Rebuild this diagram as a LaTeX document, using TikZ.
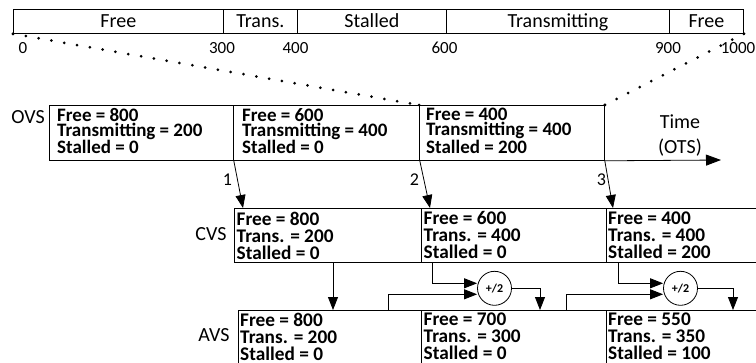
\documentclass[tikz,border=0pt]{standalone}
\usepackage{fontspec}
\setmainfont{Carlito}
\usetikzlibrary{arrows.meta,calc}
\begin{document}
\begin{tikzpicture}[x=1pt,y=-1pt,
  seg/.style={draw, line width=0.8pt, inner sep=0pt, minimum height=24pt, text height=13pt, text depth=0pt, font=\fontsize{20}{20}\selectfont},
  box/.style={draw, line width=0.8pt, inner sep=0pt, anchor=north west},
  otxt/.style={anchor=north west, inner sep=0pt, align=left, font=\bfseries\fontsize{19}{15}\selectfont},
  ctxt/.style={anchor=north west, inner sep=0pt, align=left, font=\bfseries\fontsize{19.3}{17}\selectfont},
  lab/.style={anchor=base, inner sep=0pt, font=\fontsize{20}{20}\selectfont},
  tick/.style={anchor=base, inner sep=0pt, font=\fontsize{17}{17}\selectfont},
  num/.style={anchor=base, inner sep=0pt, font=\fontsize{18}{18}\selectfont},
  pcirc/.style={draw, circle, line width=0.8pt, minimum size=34pt, inner sep=0pt, font=\bfseries\fontsize{12}{12}\selectfont},
  arr/.style={line width=0.8pt, -{Triangle[length=13pt,width=10pt]}},
  axarr/.style={line width=0.8pt, -{Triangle[length=15pt,width=11pt]}},
  dotline/.style={line width=3pt, line cap=round, dash pattern=on 0pt off 13pt}
]
\useasboundingbox (0,0) rectangle (756,362);
\clip (0,0) rectangle (756,362);

% top bar
\node[seg, minimum width=210pt, anchor=north west] (s1) at (13,9) {Free};
\node[seg, minimum width=74pt, anchor=north west] (s2) at (223,9) {Trans.};
\node[seg, minimum width=149pt, anchor=north west] (s3) at (297,9) {Stalled};
\node[seg, minimum width=223pt, anchor=north west] (s4) at (446,9) {Transmitting};
\node[seg, minimum width=74pt, anchor=north west] (s5) at (669,9) {Free};

\node[tick] (t0) at (23,53) {0};
\node[tick] (t300) at (222,53) {300};
\node[tick] (t400) at (295.5,53) {400};
\node[tick] (t600) at (444.5,53) {600};
\node[tick] (t900) at (668,53) {900};
\node[tick] (t1000) at (738,53) {1000};

% OVS
\node[box, minimum width=184pt, minimum height=55pt] (o1) at (49,105) {};
\node[box, minimum width=186pt, minimum height=55pt] (o2) at (233,105) {};
\node[box, minimum width=185pt, minimum height=55pt] (o3) at (419,105) {};
\node[otxt] (o1t) at (57,108) {Free = 800\\Transmitting = 200\\Stalled = 0};
\node[otxt] (o2t) at (242,108) {Free = 600\\Transmitting = 400\\Stalled = 0};
\node[otxt] (o3t) at (426,108) {Free = 400\\Transmitting = 400\\Stalled = 200};
\node[lab] (ovs) at (28,123) {OVS};

% dotted projections
\draw[dotline] (s1.south west) -- (o3.north west);
\draw[dotline] (s5.south east) -- (o3.north east);
\fill (s1.south west) circle (1.5pt);
\fill (s5.south east) circle (1.5pt);
\fill (o3.north west) circle (1.5pt);
\fill (o3.north east) circle (1.5pt);

% time axis
\coordinate (axend) at (721,160);
\draw[axarr] (o3.south east) -- (axend);
\node[lab, anchor=north, align=center, font=\fontsize{20}{25}\selectfont] (time) at (680,115) {Time\\(OTS)};

% CVS
\node[box, minimum width=187pt, minimum height=54pt] (c1) at (234,208) {};
\node[box, minimum width=185pt, minimum height=54pt] (c2) at (421,208) {};
\node[box, minimum width=185pt, minimum height=54pt] (c3) at (606,208) {};
\node[ctxt] (c1t) at (236.5,211.5) {Free = 800\\Trans. = 200\\Stalled = 0};
\node[ctxt] (c2t) at (423.5,211.5) {Free = 600\\Trans. = 400\\Stalled = 0};
\node[ctxt] (c3t) at (608,211.5) {Free = 400\\Trans. = 400\\Stalled = 200};
\node[lab] (cvs) at (211,240) {CVS};

% AVS
\node[box, minimum width=183pt, minimum height=56pt] (a1) at (238,310) {};
\node[box, minimum width=185pt, minimum height=56pt] (a2) at (421,310) {};
\node[box, minimum width=185pt, minimum height=56pt] (a3) at (606,310) {};
\node[ctxt] (a1t) at (240,313) {Free = 800\\Trans. = 200\\Stalled = 0};
\node[ctxt] (a2t) at (423.5,313) {Free = 700\\Trans. = 300\\Stalled = 0};
\node[ctxt] (a3t) at (608,313) {Free = 550\\Trans. = 350\\Stalled = 100};
\node[lab] (avs) at (214,341.5) {AVS};

% OVS -> CVS arrows
\draw[arr] (o1.south east) -- ($(c1.north west)+(9,0)$);
\draw[arr] (o2.south east) -- ($(c2.north west)+(9,0)$);
\draw[arr] (o3.south east) -- ($(c3.north west)+(7,0)$);
\node[num] (n1) at (227.5,185) {1};
\node[num] (n2) at (414.5,185) {2};
\node[num] (n3) at (601.5,185) {3};

% CVS -> AVS
\coordinate (d1) at ($(c1.south west)+(99,0)$);
\draw[arr] (d1) -- (d1 |- a1.north);

% averaging
\node[pcirc] (p1) at (494.5,288.3) {+/2};
\node[pcirc] (p2) at (680.5,288.3) {+/2};

\draw[arr] ($(c2.south west)+(11,0)$) |- ([yshift=5pt]p1.west);
\draw[arr] ($(a1.north west)+(150,0)$) |- ([yshift=-6pt]p1.west);
\draw[arr] (p1.east) -| ($(a2.north west)+(119,0)$);

\draw[arr] ($(c3.south west)+(12,0)$) |- ([yshift=5pt]p2.west);
\draw[arr] ($(a2.north west)+(145,0)$) |- ([yshift=-6pt]p2.west);
\draw[arr] (p2.east) -| ($(a3.north west)+(127,0)$);
\end{tikzpicture}
\end{document}
